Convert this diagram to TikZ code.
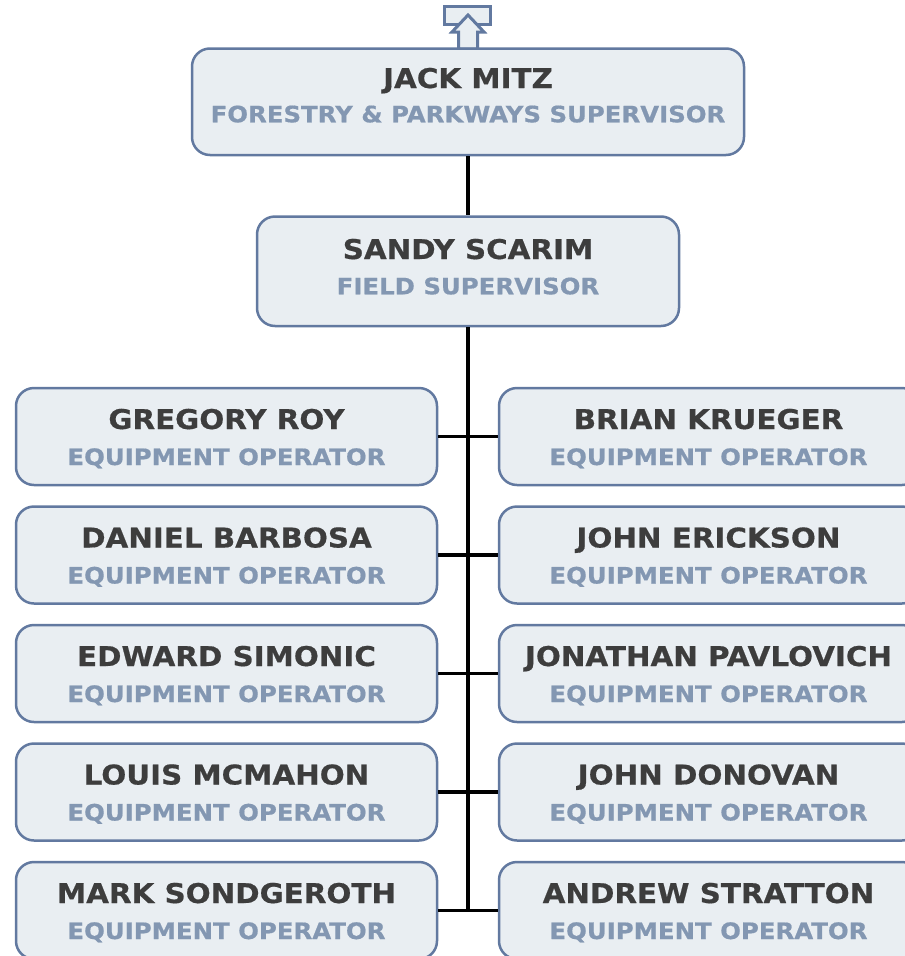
\documentclass[tikz,border=0pt]{standalone}
\usepackage{fontspec}
\usetikzlibrary{calc}
\setmainfont{DejaVu Sans}[FakeStretch=1.08]
\newfontfamily\heavyfont{DejaVu Sans Bold}[FakeStretch=1.08, FakeBold=0.6]
\definecolor{bord}{HTML}{6279A0}
\definecolor{boxfill}{HTML}{E9EEF2}
\definecolor{titlec}{HTML}{3D3D3D}
\definecolor{subc}{HTML}{8397B2}
\begin{document}
\begin{tikzpicture}[x=1pt,y=-1pt,
  box/.style={draw=bord, fill=boxfill, line width=2.5pt, rounded corners=18pt, rectangle, inner sep=0pt},
  ttl/.style={anchor=base, text=titlec, font=\fontsize{27.2}{27.2}\heavyfont, inner sep=0pt},
  sub/.style={anchor=base, text=subc, font=\fontsize{22.6}{22.6}\heavyfont, inner sep=0pt},
  conn/.style={line width=3.2pt, black},
  icon/.style={draw=bord, fill=boxfill, line width=3pt}]
\useasboundingbox (0,0) rectangle (905,956);
\clip (0,0) rectangle (905,956);
% top icon
\draw[icon] (444.5,6.5) rectangle (490.5,24.5);
\draw[icon, line join=miter] (468,15) -- (484,32) -- (477.5,32) -- (477.5,49) -- (458.5,49) -- (458.5,32) -- (452,32) -- cycle;
% boxes
\node[box, minimum width=552pt, minimum height=106.5pt] (jack) at (468,101.75) {};
\node[box, minimum width=422pt, minimum height=109.5pt] (sandy) at (468,271.25) {};
\foreach \i/\cy in {1/436.5,2/555,3/673.5,4/792,5/910.5}{
  \node[box, minimum width=421pt, minimum height=97pt] (l\i) at (226.5,\cy) {};
  \node[box, minimum width=421pt, minimum height=97pt] (r\i) at (709.5,\cy) {};
}
% connectors
\draw[conn] (jack.south) -- (sandy.north);
\coordinate (busend) at (sandy.south |- l5.east);
\draw[conn] (sandy.south) -- (busend);
\foreach \i in {1,...,5}{
  \draw[conn] (l\i.east) -- (r\i.west);
}
% texts
\node[ttl] (t0) at (468,88) {JACK MITZ};
\node[sub] (s0) at (468,122.3) {FORESTRY \& PARKWAYS SUPERVISOR};
\node[ttl] (t00) at (468,259) {SANDY SCARIM};
\node[sub] (s00) at (468,294.3) {FIELD SUPERVISOR};
\foreach \i/\ln/\rn in {1/GREGORY ROY/BRIAN KRUEGER,2/DANIEL BARBOSA/JOHN ERICKSON,3/EDWARD SIMONIC/JONATHAN PAVLOVICH,4/LOUIS MCMAHON/JOHN DONOVAN,5/MARK SONDGEROTH/ANDREW STRATTON}{
  \node[ttl] (lt\i) at ($(l\i.center)+(0,-7.5)$) {\ln};
  \node[sub] (ls\i) at ($(l\i.center)+(0,28.5)$) {EQUIPMENT OPERATOR};
  \node[ttl] (rt\i) at ($(r\i.center)+(-1,-7.5)$) {\rn};
  \node[sub] (rs\i) at ($(r\i.center)+(-1,28.5)$) {EQUIPMENT OPERATOR};
}
\end{tikzpicture}
\end{document}
